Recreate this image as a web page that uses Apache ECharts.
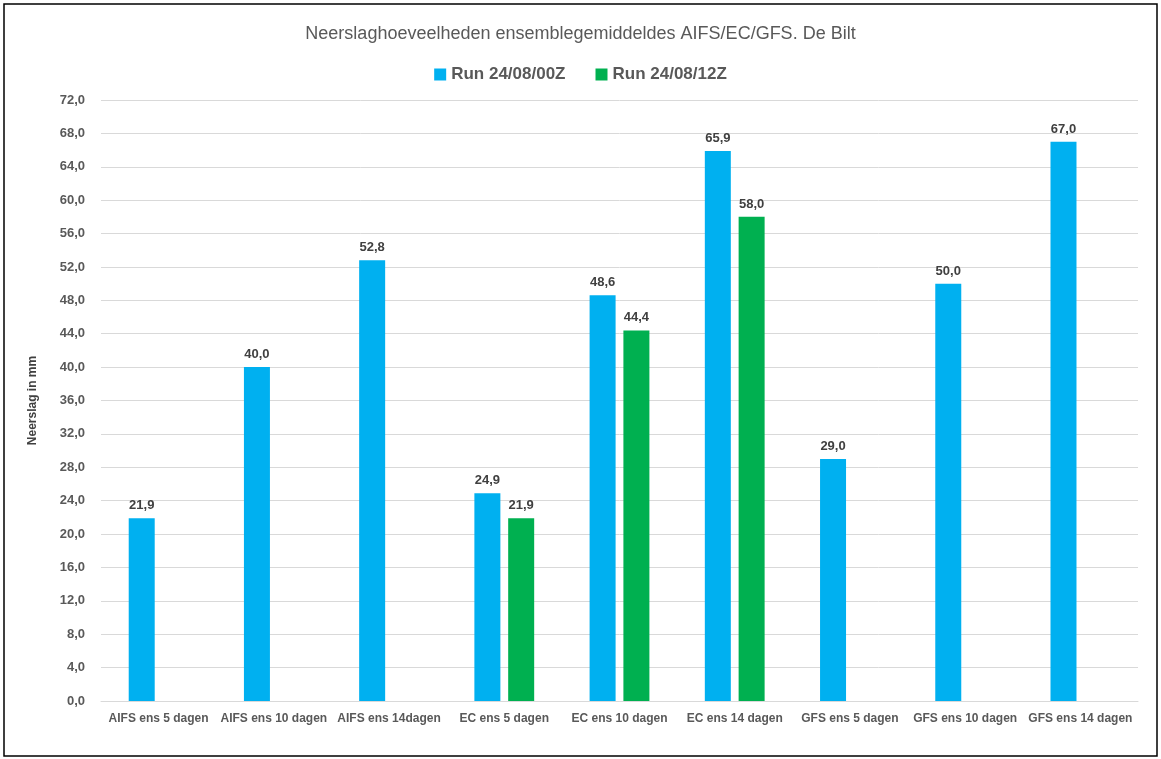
<!DOCTYPE html>
<html>
<head>
<meta charset="utf-8">
<script src="https://cdn.jsdelivr.net/npm/echarts@6/dist/echarts.min.js"></script>
<style>html,body{margin:0;padding:0;background:#fff}</style>
</head>
<body>
<div id="chart" style="width:1161px;height:759px"></div>
<script>
var categories = ['AIFS ens 5 dagen', 'AIFS ens 10 dagen', 'AIFS ens 14dagen', 'EC ens 5 dagen', 'EC ens 10 dagen', 'EC ens 14 dagen', 'GFS ens 5 dagen', 'GFS ens 10 dagen', 'GFS ens 14 dagen'];
var run00 = [21.9, 40.0, 52.8, 24.9, 48.6, 65.9, 29.0, 50.0, 67.0];
var run12 = [null, null, null, 21.9, 44.4, 58.0, null, null, null];

function comma(v) { return v.toFixed(1).replace('.', ','); }

var chart = echarts.init(document.getElementById('chart'));
var label = {
  show: true, position: 'top', distance: 6,
  fontFamily: 'Liberation Sans', fontWeight: 'bold', fontSize: 13, color: '#404040',
  formatter: function (p) { return comma(p.value); }
};
chart.setOption({
  animation: false,
  textStyle: { fontFamily: 'Liberation Sans' },
  graphic: [{
    type: 'rect', shape: { x: 4, y: 4, width: 1153, height: 752 },
    style: { fill: 'none', stroke: '#000', lineWidth: 1.5 }, silent: true
  }],
  title: {
    text: 'Neerslaghoeveelheden ensemblegemiddeldes AIFS/EC/GFS. De Bilt',
    left: 'center', top: 20,
    textStyle: { fontSize: 18, fontWeight: 'normal', color: '#595959', fontFamily: 'Liberation Sans' }
  },
  legend: {
    top: 61, itemWidth: 12, itemHeight: 12, itemGap: 30,
    textStyle: { fontSize: 17, fontWeight: 'bold', color: '#595959' },
    data: [{ name: 'Run 24/08/00Z', icon: 'rect' }, { name: 'Run 24/08/12Z', icon: 'rect' }]
  },
  grid: { left: 101, right: 23, top: 100, bottom: 58 },
  xAxis: {
    type: 'category', data: categories,
    axisTick: { show: false },
    axisLine: { lineStyle: { color: '#d9d9d9' } },
    axisLabel: { fontSize: 12, fontWeight: 'bold', color: '#595959', margin: 12, interval: 0 }
  },
  yAxis: {
    type: 'value', min: 0, max: 72, interval: 4,
    name: 'Neerslag in mm', nameLocation: 'middle', nameGap: 62,
    nameTextStyle: { fontSize: 12, fontWeight: 'bold', color: '#404040' },
    axisLabel: { fontSize: 13, fontWeight: 'bold', color: '#595959', margin: 16, formatter: comma },
    splitLine: { lineStyle: { color: '#d9d9d9' } }
  },
  series: [
    { name: 'Run 24/08/00Z', type: 'bar', data: run00, barWidth: 26, barGap: '30%',
      itemStyle: { color: '#00b0f0' }, label: label },
    { name: 'Run 24/08/12Z', type: 'bar', data: run12, barWidth: 26,
      itemStyle: { color: '#00b050' }, label: label }
  ]
});
</script>
</body>
</html>
